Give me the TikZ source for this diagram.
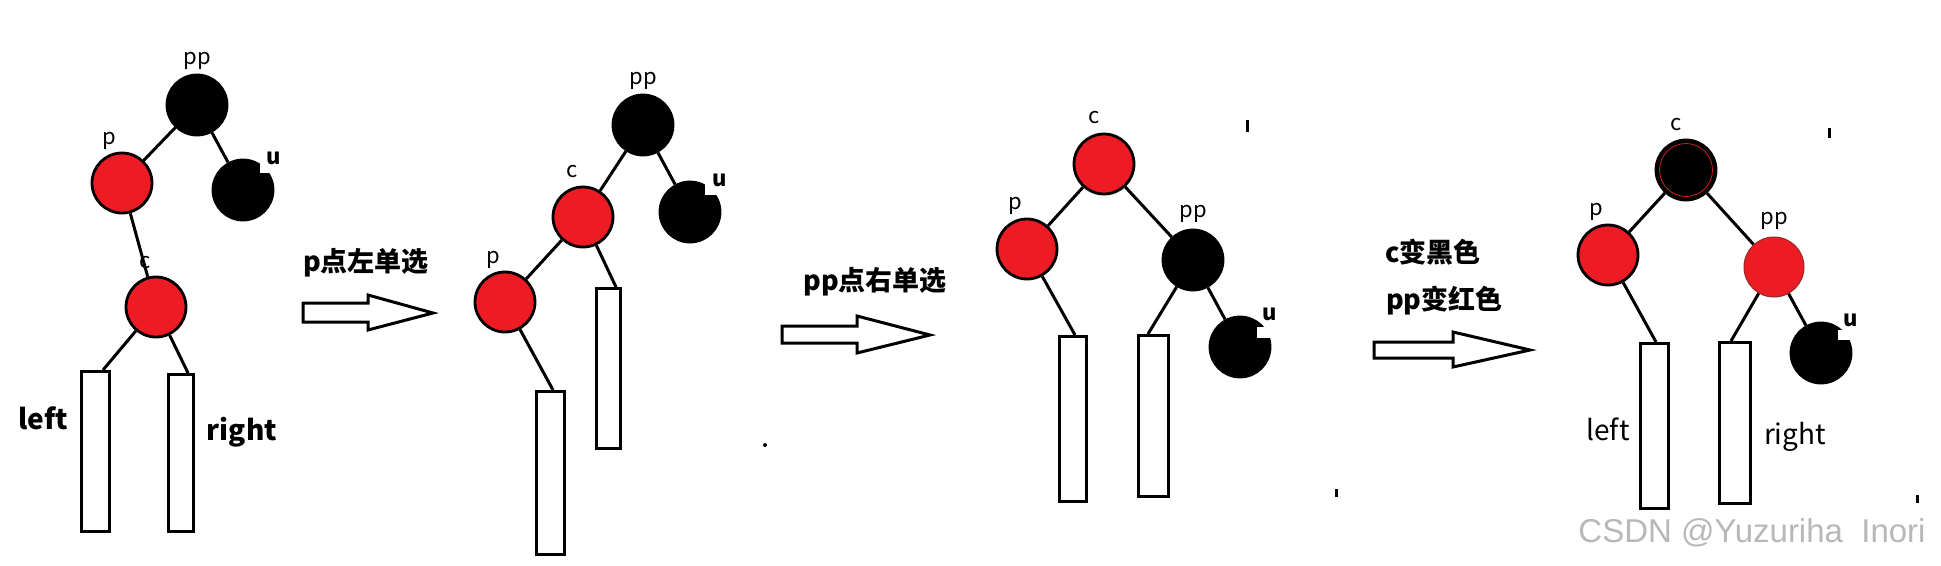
\documentclass[tikz,border=0pt]{standalone}
\usepackage{fontspec}
\setmainfont{Noto Sans CJK SC}
\newfontfamily\wmfont{Liberation Sans}
\definecolor{paintred}{RGB}{237,28,36}
\definecolor{thinred}{RGB}{150,40,40}
\tikzset{
  rnode/.style={circle, minimum size=60pt, inner sep=0pt, draw=black, line width=2.8pt, fill=paintred},
  bnode/.style={circle, minimum size=60pt, inner sep=0pt, draw=black, line width=2.8pt, fill=black},
  edge/.style={line width=3pt},
  leaf/.style={draw=black, line width=3pt, fill=white, inner sep=0pt, anchor=north west},
  lbl/.style={font=\fontsize{22}{24}\selectfont, inner sep=0pt},
  lblb/.style={font=\bfseries\fontsize{22}{24}\selectfont, inner sep=0pt},
  sidelb/.style={font=\bfseries\fontsize{28}{30}\selectfont, inner sep=0pt},
  sidelr/.style={font=\fontsize{28}{30}\selectfont, inner sep=0pt},
  captxt/.style={font=\bfseries\fontsize{27}{30}\selectfont, inner sep=0pt},
  blockarrow/.style={draw=black, line width=3pt, fill=white, line join=miter},
  speck/.style={fill=black},
}
\begin{document}
\begin{tikzpicture}[x=1pt,y=-1pt]
\fill[white] (0,0) rectangle (1941,565);
\useasboundingbox (0,0) rectangle (1941,565);

% ---------------- Panel 1 ----------------
\node[bnode] (pp1) at (197,105) {};
\node[rnode] (p1) at (122,183) {};
\node[bnode] (u1) at (243,190) {};
\node[rnode] (c1) at (156,307) {};
\fill[white] (260,161) rectangle (273,173);
\node[leaf, minimum width=28pt, minimum height=160pt] (L1) at (80,370) {};
\node[leaf, minimum width=25pt, minimum height=157pt] (R1) at (167,373) {};
\node[lbl] (tpp1) at (197,61) {pp};
\node[lbl] (tp1) at (109,141) {p};
\node[lblb] (tu1) at (274,158) {u};
\node[lbl] (tc1) at (145,263) {c};
\node[sidelb] (tl1) at (43,418) {left};
\node[sidelb] (tr1) at (242,432) {right};
\draw[edge] (pp1) -- (p1);
\draw[edge] (pp1) -- (u1);
\draw[edge] (p1) -- (c1);
\draw[edge] (c1) -- ([xshift=-8pt]L1.north east);
\draw[edge] (c1) -- ([xshift=-7pt]R1.north east);
\node[captxt] (cap1) at (366,263) {p点左单选};
\draw[blockarrow] (303,303) -- (368,303) -- (368,295) -- (433,313) -- (368,330) -- (368,322) -- (303,322) -- cycle;

% ---------------- Panel 2 ----------------
\node[bnode] (pp2) at (643,125) {};
\node[rnode] (c2) at (583,217) {};
\node[bnode] (u2) at (690,212) {};
\node[rnode] (p2) at (505,302) {};
\fill[white] (705,183) rectangle (718,195);
\node[leaf, minimum width=24pt, minimum height=160pt] (T2) at (595,287) {};
\node[leaf, minimum width=28pt, minimum height=163pt] (B2) at (535,390) {};
\node[lbl] (tpp2) at (643,81) {pp};
\node[lbl] (tc2) at (572,172) {c};
\node[lblb] (tu2) at (720,180) {u};
\node[lbl] (tp2) at (493,260) {p};
\draw[edge] (pp2) -- (c2);
\draw[edge] (pp2) -- (u2);
\draw[edge] (c2) -- (p2);
\draw[edge] (c2) -- ([xshift=-6pt]T2.north east);
\draw[edge] (p2) -- ([xshift=-13pt]B2.north east);
\node[captxt] (cap2) at (875,282) {pp点右单选};
\draw[blockarrow] (782,326) -- (857,326) -- (857,316) -- (930,335) -- (857,353) -- (857,343) -- (782,343) -- cycle;
\fill[speck] (765,445) circle (2pt);

% ---------------- Panel 3 ----------------
\node[rnode] (c3) at (1104,164) {};
\node[rnode] (p3) at (1027,249) {};
\node[bnode] (pp3) at (1193,260) {};
\node[bnode] (u3) at (1240,347) {};
\fill[white] (1257,327) rectangle (1270,338);
\node[leaf, minimum width=27pt, minimum height=165pt] (A3) at (1058,335) {};
\node[leaf, minimum width=30pt, minimum height=161pt] (B3) at (1137,334) {};
\node[lbl] (tc3) at (1094,118) {c};
\node[lbl] (tp3) at (1015,206) {p};
\node[lbl] (tpp3) at (1193,214) {pp};
\node[lblb] (tu3) at (1270,314) {u};
\draw[edge] (c3) -- (p3);
\draw[edge] (c3) -- (pp3);
\draw[edge] (p3) -- ([xshift=-13pt]A3.north east);
\draw[edge] (pp3) -- ([xshift=11pt]B3.north west);
\draw[edge] (pp3) -- (u3);
\node[captxt, anchor=west] (cap3a) at (1385,252) {c变黑色};
\node[captxt, anchor=west] (cap3b) at (1386,301) {pp变红色};
\draw[blockarrow] (1374,342) -- (1453,342) -- (1453,332) -- (1530,350) -- (1453,367) -- (1453,358) -- (1374,358) -- cycle;
\fill[speck] (1246,120) rectangle (1248.5,132);
\fill[speck] (1335,489) rectangle (1338,497);

% ---------------- Panel 4 ----------------
\node[bnode] (c4) at (1686,170) {};
\draw[paintred, line width=0.7pt] (c4.center) circle (26.5pt);
\node[rnode] (p4) at (1608,255) {};
\node[circle, minimum size=60pt, inner sep=0pt, draw=thinred, line width=1pt, fill=paintred] (pp4) at (1774,267) {};
\node[bnode] (u4) at (1821,353) {};
\fill[white] (1838,330) rectangle (1850,340);
\node[leaf, minimum width=28pt, minimum height=165pt] (L4) at (1639,342) {};
\node[leaf, minimum width=31pt, minimum height=161pt] (R4) at (1718,341) {};
\node[lbl] (tc4) at (1676,125) {c};
\node[lbl] (tp4) at (1596,212) {p};
\node[lbl] (tpp4) at (1774,221) {pp};
\node[lblb] (tu4) at (1851,320) {u};
\node[sidelr] (tl4) at (1608,429) {left};
\node[sidelr] (tr4) at (1795,437) {right};
\draw[edge] (c4) -- (p4);
\draw[edge] (c4) -- (pp4);
\draw[edge] (p4) -- ([xshift=-14pt]L4.north east);
\draw[edge] (pp4) -- ([xshift=13pt]R4.north west);
\draw[edge] (pp4) -- (u4);
\fill[speck] (1828,128) rectangle (1830.5,138);
\fill[speck] (1916,495) rectangle (1919,503);

% watermark
\node[font=\wmfont\fontsize{33}{36}\selectfont, text=black!28, inner sep=0pt] (wm) at (1752,533) {CSDN @Yuzuriha\ \ Inori};
\end{tikzpicture}
\end{document}
